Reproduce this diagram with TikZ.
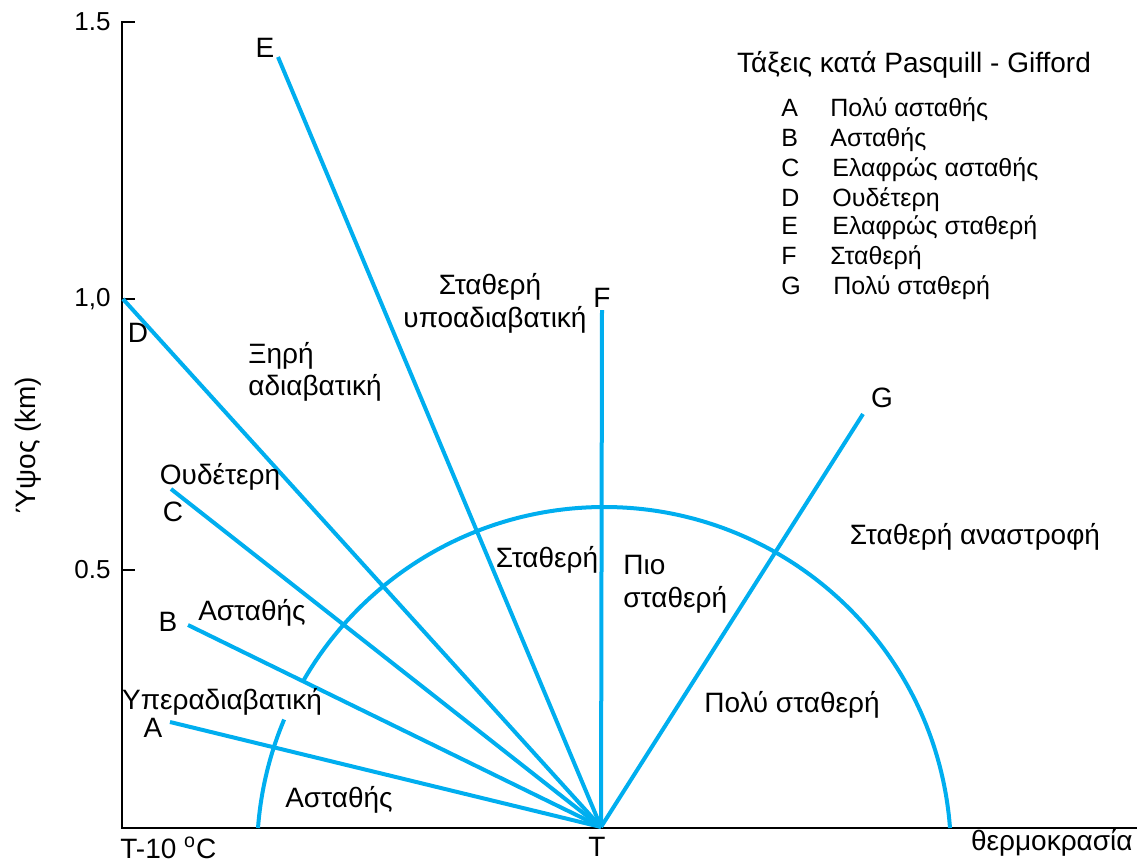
\documentclass[tikz,border=0pt]{standalone}
\usepackage{fontspec}
\setmainfont{Liberation Sans}
\definecolor{skyline}{RGB}{0,174,239}
\begin{document}
\begin{tikzpicture}[x=0.5pt,y=-0.5pt,
  blueline/.style={draw=skyline,line width=2pt},
  axisline/.style={draw=black,line width=1.1pt},
  lbl/.style={inner sep=0pt,font=\fontsize{14}{17}\selectfont},
  leg/.style={inner sep=0pt,font=\fontsize{12.5}{15}\selectfont,anchor=base west},
  ticklbl/.style={inner sep=0pt,font=\fontsize{13}{15}\selectfont,anchor=east}]
\useasboundingbox (0,0) rectangle (1141,863);
% coordinates
\coordinate (O) at (601,827);
\coordinate (ax0) at (122,828);
\coordinate (axtop) at (122,21);
\coordinate (axright) at (1137,828);
\coordinate (t15) at (135,22);
\coordinate (t15a) at (122,22);
\coordinate (t10) at (135,299);
\coordinate (t10a) at (122,299);
\coordinate (t05) at (135,570);
\coordinate (t05a) at (122,570);
\coordinate (eA) at (170,722);
\coordinate (eB) at (188,625);
\coordinate (eC) at (171,489);
\coordinate (eD) at (123,299);
\coordinate (eE) at (278,57);
\coordinate (eF) at (602,310);
\coordinate (eG) at (863,414);
\coordinate (ctr) at (604,854);
% axes
\draw[axisline] (axtop) -- (ax0) -- (axright);
\draw[axisline] (t15a) -- (t15);
\draw[axisline] (t10a) -- (t10);
\draw[axisline] (t05a) -- (t05);
% arc
\draw[blueline] ([shift={(-4.3:347)}]ctr) arc[start angle=-4.3,end angle=-150,radius=347];
\draw[blueline] ([shift={(-157.2:347)}]ctr) arc[start angle=-157.2,end angle=-175.7,radius=347];
% rays
\foreach \e in {eA,eB,eC,eD,eE,eF,eG}{\draw[blueline] (O) -- (\e);}
% tick labels
\node[ticklbl] (l15) at (111,22) {1.5};
\node[ticklbl] (l10) at (111,299) {1,0};
\node[ticklbl] (l05) at (111,570) {0.5};
\node[lbl,rotate=90] (ylab) at (28,445) {Ύψος (km)};
\node[lbl,anchor=west] (tm10) at (120,848) {T-10 \textsuperscript{o}C};
\node[lbl] (tT) at (597,847) {T};
\node[lbl,anchor=east] (temp) at (1133,843) {θερμοκρασία};
% class letters
\node[lbl] (LA) at (153,728) {A};
\node[lbl] (LB) at (168,622) {B};
\node[lbl] (LC) at (173,512) {C};
\node[lbl] (LD) at (138,333) {D};
\node[lbl] (LE) at (265,48) {E};
\node[lbl] (LF) at (602,298) {F};
\node[lbl] (LG) at (882,398) {G};
% region labels
\node[lbl] (oud) at (220,477) {Ουδέτερη};
\node[lbl] (ast1) at (252,613) {Ασταθής};
\node[lbl] (hyper) at (222,702) {Υπεραδιαβατική};
\node[lbl] (ast2) at (339,800) {Ασταθής};
\node[lbl,anchor=west] (xiri) at (248,356) {Ξηρή};
\node[lbl,anchor=west] (adiab) at (248,388) {αδιαβατική};
\node[lbl] (stath1) at (490,287) {Σταθερή};
\node[lbl] (ypoad) at (495,320) {υποαδιαβατική};
\node[lbl] (stath2) at (547,560) {Σταθερή};
\node[lbl,anchor=west] (pio) at (623,565) {Πιο};
\node[lbl,anchor=west] (piostath) at (623,600) {σταθερή};
\node[lbl] (polystath) at (792,705) {Πολύ σταθερή};
\node[lbl] (anastr) at (975,537) {Σταθερή αναστροφή};
% legend
\node[lbl,font=\fontsize{14}{17}\selectfont] (title) at (914,65) {Τάξεις κατά Pasquill - Gifford};
\node[leg] (gA) at (781,116) {A};
\node[leg] (gAt) at (830,116) {Πολύ ασταθής};
\node[leg] (gB) at (781,146) {B};
\node[leg] (gBt) at (830,146) {Ασταθής};
\node[leg] (gC) at (781,176) {C};
\node[leg] (gCt) at (832,176) {Ελαφρώς ασταθής};
\node[leg] (gD) at (781,206) {D};
\node[leg] (gDt) at (832,206) {Ουδέτερη};
\node[leg] (gE) at (781,234) {E};
\node[leg] (gEt) at (832,234) {Ελαφρώς σταθερή};
\node[leg] (gF) at (781,264) {F};
\node[leg] (gFt) at (830,264) {Σταθερή};
\node[leg] (gG) at (781,294) {G};
\node[leg] (gGt) at (833,294) {Πολύ σταθερή};
\end{tikzpicture}
\end{document}
